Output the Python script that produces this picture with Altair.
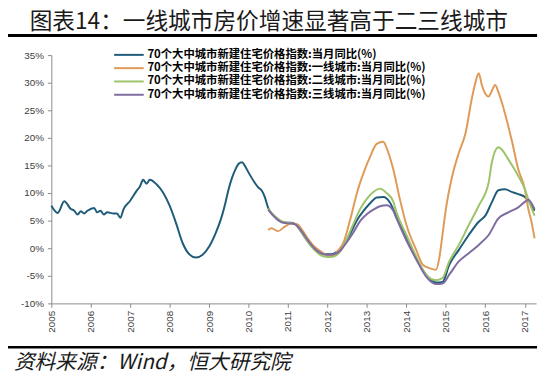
import altair as alt
import pandas as pd

TITLE = "图表14：一线城市房价增速显著高于二三线城市"
SOURCE = "资料来源：Wind，恒大研究院"

SERIES = [
    "70个大中城市新建住宅价格指数:当月同比(%)",
    "70个大中城市新建住宅价格指数:一线城市:当月同比(%)",
    "70个大中城市新建住宅价格指数:二线城市:当月同比(%)",
    "70个大中城市新建住宅价格指数:三线城市:当月同比(%)",
]
COLORS = ["#1F5C7A", "#E09A58", "#9DC36B", "#7E6BA0"]

# National (70 cities)
NAT_DATES = [
    "2005-01", "2005-03", "2005-05", "2005-07", "2005-08", "2005-09", "2005-10", "2005-11", "2005-12",
    "2006-02", "2006-03", "2006-04", "2006-05", "2006-06", "2006-08", "2006-09", "2006-10", "2006-11",
    "2007-01", "2007-03", "2007-04", "2007-05", "2007-06", "2007-07", "2007-09", "2007-11",
    "2008-01", "2008-03", "2008-05", "2008-07", "2008-09", "2008-11",
    "2009-01", "2009-03", "2009-05", "2009-06", "2009-07", "2009-08", "2009-09", "2009-10", "2009-11", "2009-12",
    "2010-01", "2010-03", "2010-04", "2010-05", "2010-06", "2010-07", "2010-08", "2010-09", "2010-11",
    "2011-01", "2011-02", "2011-04", "2011-06", "2011-08", "2011-10", "2011-12",
    "2012-02", "2012-04", "2012-06", "2012-08", "2012-10", "2012-12",
    "2013-02", "2013-04", "2013-06", "2013-08", "2013-10",
    "2014-01", "2014-04", "2014-07", "2014-10", "2014-12",
    "2015-02", "2015-05", "2015-08", "2015-11",
    "2016-01", "2016-03", "2016-05", "2016-07", "2016-09", "2016-11",
    "2017-01", "2017-02", "2017-04",
]
NAT_VALUES = [
    7.7, 6.4, 8.5, 7.1, 6.8, 6.1, 6.7, 6.3, 6.8,
    7.3, 6.5, 6.8, 6.1, 6.5, 6.3, 6.3, 5.5, 7.1,
    8.6, 10.4, 11.2, 12.4, 11.7, 12.4, 11.6, 10.1,
    7.7, 4.5, 0.9, -1.1, -1.7, -1.2,
    0.3, 2.7, 6.0, 8.3, 10.8, 12.8, 14.3, 15.3, 15.6, 14.8,
    13.7, 11.8, 11.0, 10.5, 9.2, 7.3, 6.3, 5.7, 4.8,
    4.6, 4.6, 3.9, 2.1, 0.5, -0.6, -1.1,
    -1.1, -0.6, 0.6, 2.7, 5.1, 6.8,
    8.2, 9.2, 9.3, 8.3, 5.7,
    1.8, -1.8, -4.8, -6.2, -6.1,
    -3.0, -0.3, 2.4, 4.8,
    5.9, 8.3, 10.5, 10.7, 10.2, 9.8,
    9.3, 8.6, 6.8,
]

# Tier 1 cities
T1_DATES = [
    "2010-07", "2010-08", "2010-10", "2010-12", "2011-02", "2011-04", "2011-05", "2011-07", "2011-09", "2011-11",
    "2012-01", "2012-03", "2012-04", "2012-06", "2012-08", "2012-10", "2012-12",
    "2013-02", "2013-04", "2013-06", "2013-07", "2013-09", "2013-11",
    "2014-01", "2014-04", "2014-06", "2014-08", "2014-10", "2014-11", "2014-12",
    "2015-01", "2015-03", "2015-05", "2015-07", "2015-09", "2015-10", "2015-11", "2015-12",
    "2016-01", "2016-02", "2016-03", "2016-04", "2016-05", "2016-06", "2016-07", "2016-09", "2016-11",
    "2017-01", "2017-02", "2017-03", "2017-04",
]
T1_VALUES = [
    3.3, 3.6, 3.1, 3.9, 4.5, 4.3, 3.6, 1.8, 0.3, -0.6,
    -1.3, -1.3, -0.6, 1.2, 5.4, 10.1, 13.7,
    16.7, 18.9, 19.3, 18.2, 14.3, 8.9,
    4.2, -0.3, -3.0, -3.6, -3.9, -1.8, 2.5,
    7.1, 13.1, 17.3, 20.8, 27.4, 30.0, 31.7, 29.5,
    28.0, 27.5, 28.5, 29.6, 28.3, 26.5, 24.4, 19.6, 14.3,
    10.7, 7.2, 5.0, 1.8,
]

# Tier 2 cities
T2_DATES = [
    "2010-07", "2010-09", "2010-11", "2011-01", "2011-03", "2011-05", "2011-07", "2011-09", "2011-11",
    "2012-01", "2012-03", "2012-05", "2012-07", "2012-09", "2012-11",
    "2013-01", "2013-03", "2013-05", "2013-07", "2013-09", "2013-10",
    "2014-01", "2014-04", "2014-07", "2014-10", "2014-12",
    "2015-02", "2015-05", "2015-08", "2015-11",
    "2016-02", "2016-03", "2016-05", "2016-06", "2016-08", "2016-11",
    "2017-01", "2017-02", "2017-04",
]
T2_VALUES = [
    7.2, 5.8, 4.9, 4.6, 4.4, 3.0, 1.2, -0.3, -1.3,
    -1.6, -1.5, -0.5, 1.8, 4.6, 7.2,
    9.0, 10.2, 10.8, 10.0, 8.5, 6.5,
    2.4, -1.5, -4.8, -5.8, -5.4,
    -2.4, 0.6, 4.2, 7.7,
    11.9, 15.5, 18.3, 17.9, 16.1, 13.1,
    10.7, 8.9, 5.9,
]

# Tier 3 cities
T3_DATES = [
    "2010-07", "2010-09", "2010-11", "2011-01", "2011-03", "2011-05", "2011-07", "2011-09", "2011-11",
    "2012-01", "2012-03", "2012-05", "2012-07", "2012-09", "2012-11",
    "2013-01", "2013-03", "2013-05", "2013-07", "2013-09", "2013-10",
    "2014-01", "2014-04", "2014-07", "2014-10", "2014-12",
    "2015-02", "2015-05", "2015-08", "2015-11",
    "2016-02", "2016-05", "2016-08", "2016-11",
    "2017-01", "2017-02", "2017-04",
]
T3_VALUES = [
    7.0, 5.6, 4.7, 4.5, 4.4, 3.2, 1.5, 0.0, -0.9,
    -1.2, -1.1, -0.4, 1.2, 3.0, 5.0,
    6.2, 7.0, 7.6, 7.8, 6.8, 5.4,
    1.4, -2.0, -5.1, -6.5, -6.4,
    -4.8, -2.4, -0.9, 0.6,
    2.4, 5.4, 6.5, 7.4,
    8.4, 8.8, 7.1,
]

YEAR_TICKS = [2005, 2006, 2007, 2008, 2009, 2010, 2011, 2012, 2013, 2014, 2015, 2016, 2017]
Y_TICKS = [-10, -5, 0, 5, 10, 15, 20, 25, 30, 35]

frames = []
for name, dates, vals in zip(
    SERIES,
    [NAT_DATES, T1_DATES, T2_DATES, T3_DATES],
    [NAT_VALUES, T1_VALUES, T2_VALUES, T3_VALUES],
):
    frames.append(pd.DataFrame({"date": [d + "-01" for d in dates], "value": vals, "series": name}))
df = pd.concat(frames, ignore_index=True)
order_map = {s: i for i, s in enumerate(SERIES)}
df["order"] = df["series"].map(order_map)

W, H = 492, 252
AXIS_COLOR = "#8A8A8A"
LABEL_COLOR = "#404040"

lines = alt.Chart(df).mark_line(strokeWidth=2, interpolate="monotone").encode(
    x=alt.X(
        "date:T",
        scale=alt.Scale(
            type="utc",
            domain=[alt.DateTime(year=2005, month=1, date=1, utc=True),
                    alt.DateTime(year=2017, month=4, date=15, utc=True)],
        ),
        axis=alt.Axis(
            values=[alt.DateTime(year=y, month=1, date=1, utc=True) for y in YEAR_TICKS],
            format="%Y", labelAngle=270, tickSize=4, labelPadding=3,
            domainColor=AXIS_COLOR, tickColor=AXIS_COLOR, labelColor=LABEL_COLOR,
            labelFont="Liberation Sans", labelFontSize=10, grid=False, title=None,
        ),
    ),
    y=alt.Y(
        "value:Q",
        scale=alt.Scale(domain=[-10, 35], nice=False, zero=False),
        axis=alt.Axis(
            values=Y_TICKS, labelExpr="datum.value + '%'", tickSize=4, labelPadding=4,
            domainColor=AXIS_COLOR, tickColor=AXIS_COLOR, labelColor=LABEL_COLOR,
            labelFont="Liberation Sans", labelFontSize=10, grid=False, title=None,
        ),
    ),
    color=alt.Color(
        "series:N",
        scale=alt.Scale(domain=SERIES, range=COLORS),
        legend=alt.Legend(
            orient="none", legendX=73, legendY=-6, title=None, direction="vertical",
            symbolType="M-5,0H5", symbolSize=36, symbolStrokeWidth=2,
            labelFont="Noto Sans CJK SC", labelFontSize=11.5, labelFontWeight="bold",
            labelColor="#000000", labelOffset=13, rowPadding=0.5, labelLimit=500, padding=0,
        ),
    ),
    order=alt.Order("order:Q"),
    detail="series:N",
)

title_df = pd.DataFrame({"t": [TITLE]})
source_df = pd.DataFrame({"t": [SOURCE]})

title_text = alt.Chart(title_df).mark_text(
    align="left", baseline="middle", fontSize=23, font="Noto Sans CJK SC", color="#1a1a1a"
).encode(text="t:N", x=alt.value(-22), y=alt.value(-34))

source_text = alt.Chart(source_df).mark_text(
    align="left", baseline="middle", fontSize=21, font="Noto Sans CJK SC",
    fontStyle="italic", color="#1a1a1a"
).encode(text="t:N", x=alt.value(-38), y=alt.value(313))

top_rule = alt.Chart(title_df).mark_rule(color="#000000", strokeWidth=3).encode(
    x=alt.value(-48), x2=alt.value(493), y=alt.value(-20)
)
bottom_rule = alt.Chart(source_df).mark_rule(color="#000000", strokeWidth=2.5).encode(
    x=alt.value(-48), x2=alt.value(493), y=alt.value(296.5)
)

chart = alt.layer(lines, top_rule, bottom_rule, title_text, source_text).properties(
    width=W, height=H,
    autosize=alt.AutoSizeParams(type="none"),
    padding={"left": 44, "top": 45, "right": 6, "bottom": 79},
).configure_view(stroke=None)

chart.save("out.html", embed_options={"renderer": "svg", "actions": False})
